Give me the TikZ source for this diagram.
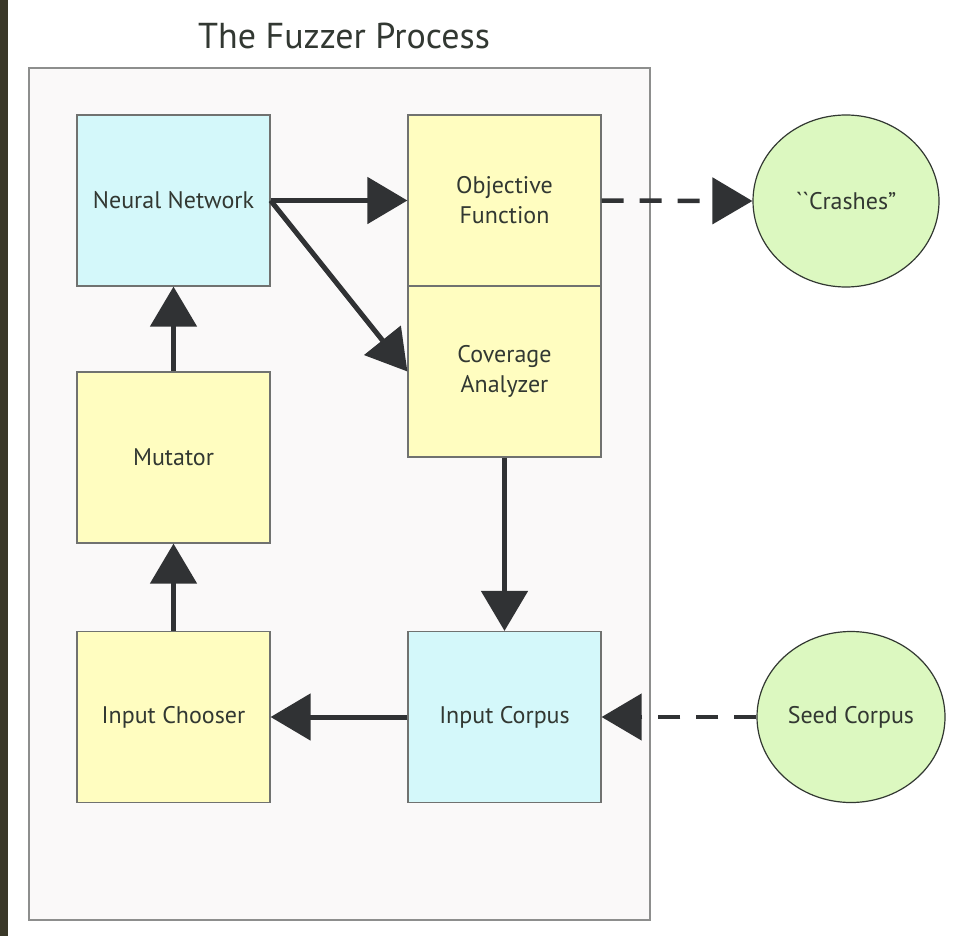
\documentclass[tikz,border=0pt]{standalone}
\usepackage[RGB]{xcolor}
\usepackage{fontspec}
\setmainfont{PT Sans}[Ligatures=TeXOff]
\usepackage{tikz}
\usetikzlibrary{arrows.meta,shapes.geometric}
\definecolor{C}{RGB}{212,248,250}
\definecolor{Y}{RGB}{255,253,192}
\definecolor{G}{RGB}{220,248,192}
\definecolor{P}{RGB}{250,249,249}
\definecolor{K}{RGB}{48,50,52}
\definecolor{E}{RGB}{112,114,112}
\definecolor{T}{RGB}{50,56,50}
\definecolor{O}{RGB}{58,56,40}
\newcommand{\drawthick}{\draw[K,line width=5pt,-{Triangle[length=40pt,width=46pt]}]}
\newcommand{\drawdashed}{\draw[K,line width=4.5pt,dash pattern=on 22pt off 16pt,-{Triangle[length=40pt,width=46pt]}]}
\tikzset{
  part/.style={draw=E,line width=1.2pt,minimum width=193pt,minimum height=171pt,
    inner sep=0pt,align=center,text=T,font=\fontsize{24}{30}\selectfont},
  outside/.style={ellipse,draw=T,line width=1.2pt,fill=G,inner sep=0pt,
    text=T,font=\fontsize{24}{30}\selectfont}
}

\begin{document}
\begin{tikzpicture}[x=1pt,y=-1pt]
\useasboundingbox (0,0) rectangle (960,936);
\fill[white] (0,0) rectangle (960,936);
\fill[O] (0,0) rectangle (8,936);
\draw[draw=E!80,fill=P,line width=1.5pt] (29,68) rectangle (650,920);
\node[text=T,font=\fontsize{36}{40}\selectfont] (title) at (344,36) {The Fuzzer Process};
\node[part,fill=C] (net) at (173.5,200.5) {Neural Network};
\node[part,fill=Y] (goal) at (504.5,200.5) {Objective\\Function};
\node[part,fill=Y] (cover) at (504.5,371.5) {Coverage\\Analyzer};
\node[part,fill=Y] (mut) at (173.5,457.5) {Mutator};
\node[part,fill=Y] (choose) at (173.5,717) {Input Chooser};
\node[part,fill=C] (corpus) at (504.5,717) {Input Corpus};
\node[outside,minimum width=186pt,minimum height=172pt] (crash) at (846,201) {``Crashes”};
\node[outside,minimum width=188pt,minimum height=171pt] (seed) at (851,717) {Seed Corpus};
\drawthick (net.east)--(goal.west);
\drawthick (net.east)--(cover.west);
\drawthick (mut.north)--(net.south);
\drawthick (choose.north)--(mut.south);
\drawthick (cover.south)--(corpus.north);
\drawthick (corpus.west)--(choose.east);
\drawdashed (goal.east)--(crash.west);
\drawdashed (seed.west)--(corpus.east);
\end{tikzpicture}
\end{document}
